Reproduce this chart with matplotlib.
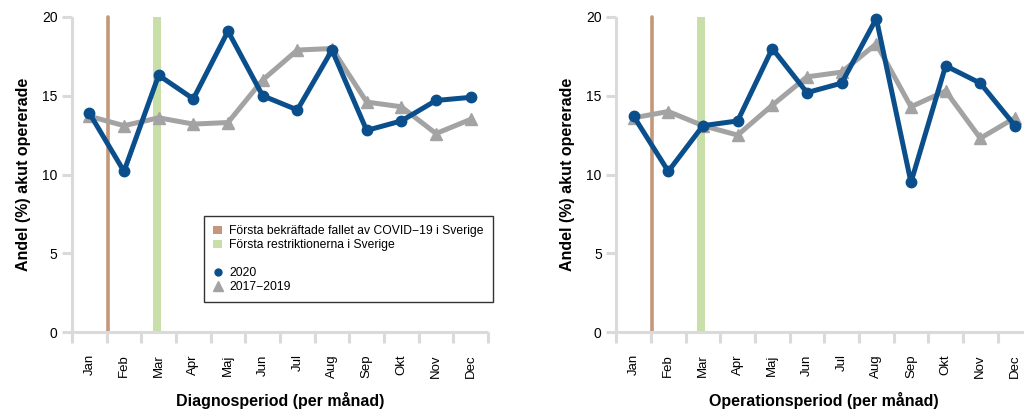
import matplotlib
matplotlib.use("Agg")
import matplotlib.pyplot as plt
from matplotlib.lines import Line2D
from matplotlib.patches import Patch

plt.rcParams['font.family'] = ['Liberation Sans', 'DejaVu Sans']

months = ["Jan", "Feb", "Mar", "Apr", "Maj", "Jun", "Jul", "Aug", "Sep", "Okt", "Nov", "Dec"]

# Diagnosperiod
diag_2020 = [13.9, 10.2, 16.3, 14.8, 19.1, 15.0, 14.1, 17.9, 12.8, 13.4, 14.7, 14.9]
diag_ref = [13.7, 13.1, 13.6, 13.2, 13.3, 16.0, 17.9, 18.0, 14.6, 14.3, 12.6, 13.5]

# Operationsperiod
op_2020 = [13.7, 10.2, 13.1, 13.4, 18.0, 15.2, 15.8, 19.9, 9.5, 16.9, 15.8, 13.1]
op_ref = [13.6, 14.0, 13.1, 12.5, 14.4, 16.2, 16.5, 18.3, 14.3, 15.3, 12.3, 13.6]

first_case = 1.53          # 31 januari
restrictions = (2.84, 3.06)  # mitten av mars

BLUE = "#0a4f8c"
GRAY = "#a3a3a3"
BROWN = "#c4977b"
GREEN = "#c9dfaa"
AXIS = "#dadada"

fig = plt.figure(figsize=(10.24, 4.12), dpi=100)
W, H = 1024, 412


def panel(left_px, series_2020, series_ref, xlabel, legend=False):
    ax = fig.add_axes([left_px / W, 80 / H, 416 / W, 315 / H])
    x = list(range(1, 13))
    ax.axvspan(*restrictions, ymin=0, ymax=1, color=GREEN, lw=0, zorder=1)
    ax.plot([first_case, first_case], [0, 20], color=BROWN, lw=2.6,
            solid_capstyle='round', zorder=1, clip_on=False)
    ax.plot(x, series_ref, color=GRAY, lw=3.6, marker='^', ms=9,
            zorder=2, clip_on=False)
    ax.plot(x, series_2020, color=BLUE, lw=3.6, marker='o', ms=7.5,
            zorder=3, clip_on=False)
    ax.set_xlim(0.5, 12.5)
    ax.set_ylim(0, 20)
    for s in ['top', 'right']:
        ax.spines[s].set_visible(False)
    for s in ['left', 'bottom']:
        ax.spines[s].set_color(AXIS)
        ax.spines[s].set_linewidth(2.2)
        ax.spines[s].set_capstyle('butt')
    ax.set_yticks([0, 5, 10, 15, 20])
    ax.tick_params(axis='y', length=7.5, width=2.2, color=AXIS,
                   labelsize=10, pad=3)
    ax.set_xticks([i + 0.5 for i in range(0, 13)])
    ax.set_xticklabels([])
    ax.tick_params(axis='x', which='major', length=8, width=2.2, color=AXIS)
    ax.set_xticks(x, minor=True)
    ax.set_xticklabels(months, minor=True, rotation=90, fontsize=9.5)
    ax.tick_params(axis='x', which='minor', length=0, pad=16)
    for lbl in ax.get_xticklabels(minor=True):
        lbl.set_verticalalignment('top')
    ax.set_ylabel("Andel (%) akut opererade", fontsize=11.5,
                  fontweight='bold', labelpad=8)
    ax.set_xlabel(xlabel, fontsize=11.5, fontweight='bold', labelpad=10)
    if legend:
        handles = [
            Patch(facecolor=BROWN, edgecolor='none',
                  label="Första bekräftade fallet av COVID\u221219 i Sverige"),
            Patch(facecolor=GREEN, edgecolor='none',
                  label="Första restriktionerna i Sverige"),
            Line2D([], [], color='none', label=" "),
            Line2D([], [], color=BLUE, marker='o', ls='none', ms=5,
                   label="2020"),
            Line2D([], [], color=GRAY, marker='^', ls='none', ms=6.5,
                   label="2017\u22122019"),
        ]
        leg = ax.legend(handles=handles, loc='upper left',
                        bbox_to_anchor=(0.318, 0.368), fontsize=8.7,
                        frameon=True, fancybox=False, handlelength=0.7,
                        handleheight=0.7, handletextpad=0.6,
                        labelspacing=0.16, borderpad=0.75,
                        borderaxespad=0.0)
        leg.get_frame().set_edgecolor('black')
        leg.get_frame().set_linewidth(1.0)
    return ax


panel(72, diag_2020, diag_ref, "Diagnosperiod (per månad)", legend=True)
panel(616.3, op_2020, op_ref, "Operationsperiod (per månad)")

fig.savefig("out.png", dpi=100)
